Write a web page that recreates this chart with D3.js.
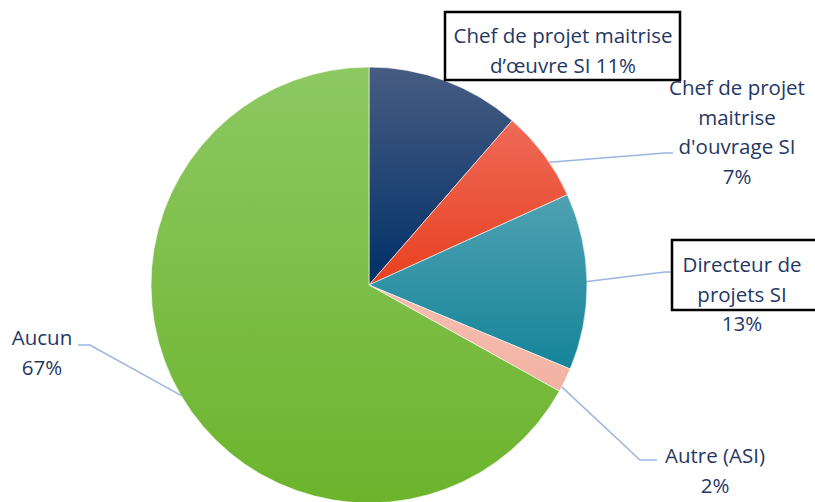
<!DOCTYPE html>
<html>
<head>
<meta charset="utf-8">
<script src="https://cdn.jsdelivr.net/npm/d3@7"></script>
<style>
  body { margin: 0; background: #fff; }
  svg { display: block; }
</style>
</head>
<body>
<script>
// slice data, clockwise from 12 o'clock
const categories = ["Chef de projet maitrise d\u2019œuvre SI", "Chef de projet maitrise d'ouvrage SI", "Directeur de projets SI", "Autre (ASI)", "Aucun"];
const values = [11.4, 6.8, 13.1, 1.8, 66.9];
const labelLines = [
    ["Chef de projet maitrise", "d\u2019œuvre SI 11%"],
    ["Chef de projet", "maitrise", "d'ouvrage SI", "7%"],
    ["Directeur de", "projets SI", "13%"],
    ["Autre (ASI)", "2%"],
    ["Aucun", "67%"]
];

const width = 815, height = 502;
const cx = 369, cy = 285, radius = 218;

// gradient stops per slice (top, bottom)
const grads = [
    ["#485c82", "#003068"],
    ["#ee6a58", "#e8401f"],
    ["#4fa2b2", "#158499"],
    ["#f6bdb0", "#f2b2a2"],
    ["#8dc862", "#6cb42c"]
];

const svg = d3.select("body").append("svg")
    .attr("width", width)
    .attr("height", height);

const defs = svg.append("defs");
grads.forEach((g, i) => {
    const lg = defs.append("linearGradient")
        .attr("id", "g" + i)
        .attr("x1", 0).attr("y1", 0).attr("x2", 0).attr("y2", 1);
    lg.append("stop").attr("offset", "0%").attr("stop-color", g[0]);
    lg.append("stop").attr("offset", "100%").attr("stop-color", g[1]);
});

const pie = d3.pie().sort(null).value(d => d);
const arcs = pie(values);
const arc = d3.arc().innerRadius(0).outerRadius(radius);

const g = svg.append("g").attr("transform", `translate(${cx},${cy})`);

g.selectAll("path")
    .data(arcs)
    .join("path")
    .attr("d", arc)
    .attr("fill", (d, i) => `url(#g${i})`)
    .attr("stroke", "#fff")
    .attr("stroke-width", 0.6);

// leader lines: start on the rim at a point of the slice, end near the label
const pointOnRim = (d, t) => {
    const a = d.startAngle + (d.endAngle - d.startAngle) * t;
    return [cx + radius * Math.sin(a), cy - radius * Math.cos(a)];
};
const leaders = [
    null,
    { i: 1, t: 0.6, pts: [[665, 153], [673, 153]] },
    { i: 2, t: 0.5, pts: [[665, 272], [672, 272]] },
    { i: 3, t: 0.8, pts: [[640, 460], [657, 460]] },
    { i: 4, t: 0.5, pts: [[90, 345], [78, 345]] }
];
leaders.forEach(l => {
    if (!l) return;
    const start = pointOnRim(arcs[l.i], l.t);
    svg.append("path")
        .attr("d", d3.line()([start, ...l.pts]))
        .attr("fill", "none")
        .attr("stroke", "#9db5de")
        .attr("stroke-width", 1.5);
});

// boxed labels
const boxes = [
    { x: 445, y: 12, w: 235, h: 68 },
    null,
    { x: 672, y: 240, w: 150, h: 70 },
    null,
    null
];
boxes.forEach(b => {
    if (!b) return;
    svg.append("rect")
        .attr("x", b.x).attr("y", b.y)
        .attr("width", b.w).attr("height", b.h)
        .attr("fill", "#fff")
        .attr("stroke", "#000")
        .attr("stroke-width", 2.5);
});

const labelPos = [[563, 36], [737, 88], [742, 265], [715, 456], [42, 338]];
const lineH = 29.5;

labelLines.forEach((lines, i) => {
    const t = svg.append("text")
        .attr("font-family", "'Open Sans', sans-serif")
        .attr("font-size", 20.5)
        .attr("fill", "#1f3864")
        .attr("text-anchor", "middle");
    lines.forEach((s, k) => {
        t.append("tspan")
            .attr("x", labelPos[i][0])
            .attr("y", labelPos[i][1] + k * lineH)
            .attr("dy", "0.35em")
            .text(s);
    });
});
</script>
</body>
</html>
